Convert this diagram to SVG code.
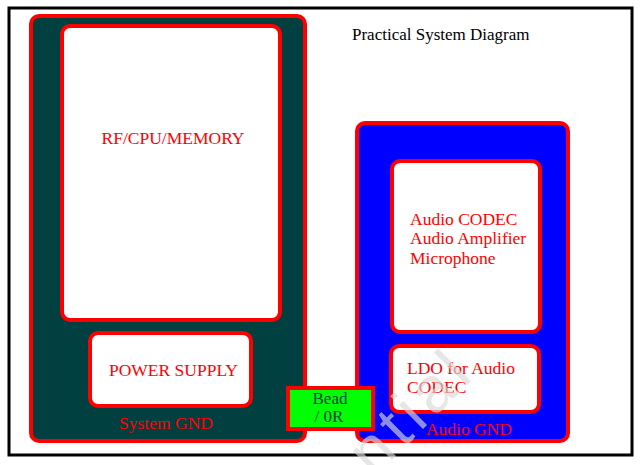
<svg xmlns="http://www.w3.org/2000/svg" width="640" height="465" viewBox="0 0 640 465">
<style>
  .t { font-family: "Liberation Serif", "Times New Roman", serif; font-size: 17.5px; }
  .red { fill: #ff0000; }
  .box { fill: #ffffff; stroke: #ff0000; stroke-width: 4; }
</style>
<rect x="0" y="0" width="640" height="465" fill="#ffffff"/>
<rect x="9" y="8" width="623" height="447" fill="#ffffff" stroke="#000000" stroke-width="3"/>
<text class="t" x="352" y="40" fill="#000000" style="font-size:17px">Practical System Diagram</text>

<g id="system-gnd">
  <rect x="31" y="16" width="274" height="425" rx="8" fill="#004040" stroke="#ff0000" stroke-width="4"/>
  <text class="t red" x="166" y="429" text-anchor="middle">System GND</text>
</g>
<g id="rf-cpu-memory">
  <rect class="box" x="62" y="26" width="218" height="294" rx="8"/>
  <text class="t red" x="173" y="144" text-anchor="middle">RF/CPU/MEMORY</text>
</g>
<g id="power-supply">
  <rect class="box" x="90" y="333" width="161" height="73" rx="8"/>
  <text class="t red" x="173.5" y="376" text-anchor="middle">POWER SUPPLY</text>
</g>

<g id="audio-gnd">
  <rect x="357" y="123" width="211" height="318" rx="8" fill="#0000ff" stroke="#ff0000" stroke-width="4"/>
  <text class="t red" x="469" y="435" text-anchor="middle">Audio GND</text>
</g>
<g id="audio-codec">
  <rect class="box" x="392" y="161" width="148" height="171" rx="8"/>
  <text class="t red" x="410" y="225">Audio CODEC</text>
  <text class="t red" x="410" y="244">Audio Amplifier</text>
  <text class="t red" x="410" y="264">Microphone</text>
</g>
<g id="ldo">
  <rect class="box" x="391" y="346" width="148" height="66" rx="8"/>
  <text class="t red" x="407" y="374">LDO for Audio</text>
  <text class="t red" x="407" y="393">CODEC</text>
</g>

<g id="connectors"></g>

<g id="bead">
  <rect x="288" y="388" width="85" height="41" fill="#00ff00" stroke="#ff0000" stroke-width="4"/>
  <text class="t" x="330" y="404" text-anchor="middle" fill="#004040" style="font-size:17px">Bead</text>
  <text class="t" x="329" y="422" text-anchor="middle" fill="#004040" style="font-size:17px">/ 0R</text>
</g>

<text x="0" y="0" transform="translate(478,374) rotate(-45)" text-anchor="end" letter-spacing="6" font-family="Liberation Sans, Arial, sans-serif" font-size="64" fill="#d8d8d8" fill-opacity="0.65">Confidential</text>
</svg>
